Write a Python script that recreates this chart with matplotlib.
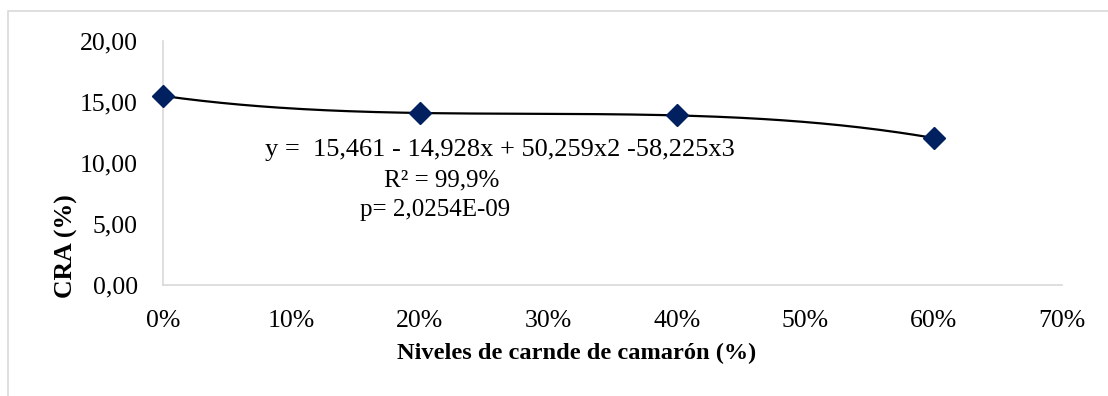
import numpy as np
import matplotlib
matplotlib.use('Agg')
import matplotlib.pyplot as plt
from matplotlib.patches import Rectangle
from matplotlib.ticker import FuncFormatter

niveles = [0.0, 0.2, 0.4, 0.6]
cra = [15.5, 14.1, 13.9, 12.05]
eq_lines = ['y =  15,461 - 14,928x + 50,259x2 -58,225x3', 'R² = 99,9%', 'p= 2,0254E-09']

plt.rcParams['font.family'] = ['Liberation Serif', 'DejaVu Serif']
W, H = 1108, 396
fig = plt.figure(figsize=(W / 100, H / 100), dpi=100)

# outer chart frame
fig.patches.append(Rectangle((8 / W, -0.1), 1.2, (H - 11) / H + 0.1, transform=fig.transFigure,
                             fill=False, edgecolor='#d9d9d9', linewidth=1.2))

ax = fig.add_axes([163 / W, (H - 285) / H, (1062 - 163) / W, (285 - 41) / H])

# polynomial trendline (order 3)
coef = np.polyfit(niveles, cra, 3)
xs = np.linspace(0, 0.6, 200)
ax.plot(xs, np.polyval(coef, xs), color='black', linewidth=1.6, zorder=2)
ax.plot(niveles, cra, linestyle='none', marker='D', markersize=11,
        color='#002060', zorder=3, clip_on=False)

ax.set_xlim(0, 0.7)
ax.set_ylim(0, 20)
ax.set_xticks(np.arange(0, 0.71, 0.1))
ax.set_yticks(np.arange(0, 20.1, 5))
ax.xaxis.set_major_formatter(FuncFormatter(lambda v, p: '{:.0f}%'.format(v * 100)))
ax.yaxis.set_major_formatter(FuncFormatter(lambda v, p: '{:.2f}'.format(v).replace('.', ',')))
ax.tick_params(axis='both', length=0, labelsize=18.5)
ax.tick_params(axis='y', pad=18)
ax.tick_params(axis='x', pad=18)
for s in ['top', 'right']:
    ax.spines[s].set_visible(False)
for s in ['left', 'bottom']:
    ax.spines[s].set_color('#d9d9d9')
    ax.spines[s].set_linewidth(1.2)

fig.text(265 / W, 1 - 150 / H, eq_lines[0], fontsize=19, ha='left', va='center')
fig.text(442 / W, 1 - 180 / H, eq_lines[1], fontsize=18, ha='center', va='center')
fig.text(435 / W, 1 - 210 / H, eq_lines[2], fontsize=18, ha='center', va='center')

fig.text(577 / W, 1 - 353 / H, 'Niveles de carnde de camarón (%)', fontsize=17.6,
         fontweight='bold', ha='center', va='center')
fig.text(66 / W, 1 - 246 / H, 'CRA (%)', fontsize=18.5, fontweight='bold',
         rotation=90, ha='center', va='center')

fig.savefig('out.png', dpi=100)
